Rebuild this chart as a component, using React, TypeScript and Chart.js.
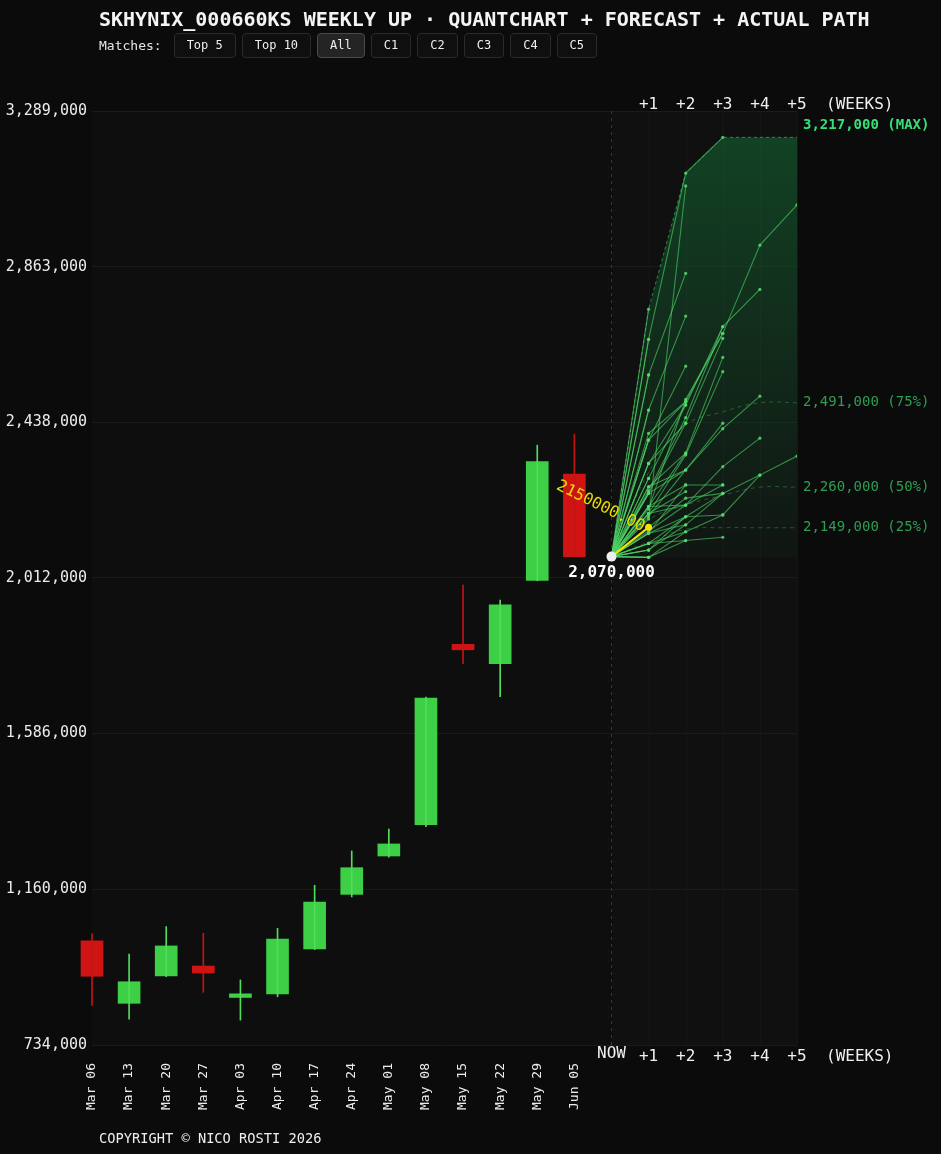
import React, { useEffect, useRef } from 'react';
import { Chart, registerables } from 'chart.js';

Chart.register(...registerables);

const FONT = '"DejaVu Sans Mono", "Liberation Mono", monospace';

const TITLE = 'SKHYNIX_000660KS WEEKLY UP · QUANTCHART + FORECAST + ACTUAL PATH';
const MATCH_BUTTONS = ['Top 5', 'Top 10', 'All', 'C1', 'C2', 'C3', 'C4', 'C5'];
const ACTIVE_BUTTON = 'All';
const COPYRIGHT = 'COPYRIGHT © NICO ROSTI 2026';

const DATES = ['Mar 06', 'Mar 13', 'Mar 20', 'Mar 27', 'Apr 03', 'Apr 10', 'Apr 17', 'Apr 24', 'May 01', 'May 08', 'May 15', 'May 22', 'May 29', 'Jun 05'];
const OPEN = [1019000, 848000, 923000, 950000, 864000, 874000, 997000, 1146000, 1251000, 1337000, 1830000, 1777000, 2005000, 2296000];
const HIGH = [1038000, 983000, 1058000, 1040000, 912000, 1053000, 1171000, 1265000, 1325000, 1686000, 1992000, 1951000, 2375000, 2405000];
const LOW = [842000, 805000, 921000, 878000, 802000, 866000, 995000, 1139000, 1248000, 1331000, 1777000, 1687000, 2004000, 2070000];
const CLOSE = [922000, 907000, 1005000, 931000, 874000, 1024000, 1125000, 1219000, 1284000, 1683000, 1815000, 1938000, 2330000, 2070000];

const Y_TICKS = [734000, 1160000, 1586000, 2012000, 2438000, 2863000, 3289000];
const STEP_LABELS = ['NOW', '+1', '+2', '+3', '+4', '+5'];
const WEEKS_LABEL = '(WEEKS)';

const NOW_PRICE = 2070000;
const ACTUAL_PATH = [2070000, 2150000];
const ACTUAL_LABEL = '2150000.00';

const ENV_MAX = [2070000, 2747000, 3119000, 3217000, 3217000, 3217000];
const ENV_MIN = [2070000, 2068000, 2068000, 2068000, 2068000, 2068000];
const P75 = [2070000, 2300000, 2430000, 2466000, 2491000, 2491000];
const P50 = [2070000, 2170000, 2211000, 2238000, 2260000, 2260000];
const P25 = [2070000, 2110000, 2145000, 2149000, 2149000, 2149000];
const PCT_NAMES = ['75%', '50%', '25%'];

const FORECAST_PATHS: number[][] = [
  [2070000, 2664000, 3119000, 3217000],
  [2070000, 2173000, 3084000],
  [2070000, 2747000],
  [2070000, 2567000, 2845000],
  [2070000, 2471000, 2728000],
  [2070000, 2389000, 2591000],
  [2070000, 2200000, 2500000, 2680000, 2922000, 3032000],
  [2070000, 2250000, 2450000, 2699000, 2801000],
  [2070000, 2243000, 2435000, 2667000],
  [2070000, 2207000, 2353000, 2615000],
  [2070000, 2188000, 2348000, 2576000],
  [2070000, 2180000, 2307000, 2420000, 2509000],
  [2070000, 2140000, 2211000, 2316000, 2394000],
  [2070000, 2106000, 2138000, 2184000, 2293000, 2345000],
  [2070000, 2150000, 2230000, 2243000, 2293000],
  [2070000, 2134000, 2266000, 2266000],
  [2070000, 2068000, 2114000, 2123000],
  [2070000, 2106000, 2179000, 2243000],
  [2070000, 2325000, 2435000],
  [2070000, 2407000, 2494000],
  [2070000, 2207000, 2211000],
  [2070000, 2134000, 2157000],
  [2070000, 2188000, 2248000],
  [2070000, 2068000, 2138000],
  [2070000, 2284000, 2485000],
  [2070000, 2261000, 2353000],
  [2070000, 2088000, 2179000],
  [2070000, 2471000],
  [2070000, 2389000],
  [2070000, 2284000],
  [2070000, 2068000],
  [2070000, 2243000],
  [2070000, 2088000],
  [2070000, 2325000],
  [2070000, 2567000],
  [2070000, 2664000],
  [2070000, 2261000, 2307000, 2435000],
  [2070000, 2325000, 2485000, 2699000],
  [2070000, 2389000, 2494000, 2681000],
  [2070000, 2207000, 2266000],
  [2070000, 2243000, 2307000],
  [2070000, 2188000, 2211000, 2266000],
  [2070000, 2134000, 2179000, 2184000],
  [2070000, 2106000, 2114000],
  [2070000, 2088000, 2157000, 2243000],
];

const UP = '#3dcf46';
const DOWN = '#d01313';
const NOW_X = DATES.length;
const fmt = (v: number) => v.toLocaleString('en-US');
const xy = (arr: number[]) => arr.map((v, i) => ({ x: NOW_X + i, y: v }));

const bgPlugin = {
  id: 'bgPlugin',
  beforeDraw(chart: any) {
    const { ctx, chartArea: a, scales } = chart;
    const x = scales.x;
    ctx.save();
    ctx.fillStyle = '#0b0b0b';
    ctx.fillRect(0, 0, chart.width, chart.height);
    ctx.fillStyle = '#0e0e0e';
    ctx.fillRect(a.left, a.top, a.right - a.left, a.bottom - a.top);
    const bx = x.getPixelForValue(NOW_X);
    ctx.fillStyle = '#101010';
    ctx.fillRect(bx, a.top, a.right - bx, a.bottom - a.top);
    ctx.strokeStyle = '#161616';
    ctx.lineWidth = 1;
    for (let i = 1; i < STEP_LABELS.length; i++) {
      const px = Math.round(x.getPixelForValue(NOW_X + i)) + 0.5;
      ctx.beginPath();
      ctx.moveTo(px, a.top);
      ctx.lineTo(px, a.bottom);
      ctx.stroke();
    }
    ctx.restore();
  },
  beforeDatasetsDraw(chart: any) {
    const { ctx, chartArea: a, scales } = chart;
    const px = Math.round(scales.x.getPixelForValue(NOW_X)) + 0.5;
    ctx.save();
    ctx.strokeStyle = '#363636';
    ctx.setLineDash([3, 4]);
    ctx.lineWidth = 1;
    ctx.beginPath();
    ctx.moveTo(px, a.top);
    ctx.lineTo(px, a.bottom);
    ctx.stroke();
    ctx.restore();
  },
};

const textPlugin = {
  id: 'textPlugin',
  afterDraw(chart: any) {
    const { ctx, chartArea: a, scales } = chart;
    const x = scales.x;
    const y = scales.y;
    ctx.save();
    ctx.textBaseline = 'middle';
    ctx.fillStyle = '#f0f0f0';
    ctx.font = `16px ${FONT}`;
    ctx.textAlign = 'center';
    STEP_LABELS.forEach((s, i) => {
      const px = x.getPixelForValue(NOW_X + i);
      if (i > 0) ctx.fillText(s, px, a.top - 6);
      ctx.fillText(s, px, i === 0 ? a.bottom + 9 : a.bottom + 12);
    });
    ctx.textAlign = 'left';
    const wx = x.getPixelForValue(NOW_X + STEP_LABELS.length - 1) + 29;
    ctx.fillText(WEEKS_LABEL, wx, a.top - 6);
    ctx.fillText(WEEKS_LABEL, wx, a.bottom + 12);

    // right side labels
    const rx = a.right + 6;
    const maxV = ENV_MAX[ENV_MAX.length - 1];
    ctx.font = `bold 14px ${FONT}`;
    ctx.fillStyle = '#35e07a';
    ctx.fillText(`${fmt(maxV)} (MAX)`, rx, y.getPixelForValue(maxV) - 12);
    ctx.font = `14px ${FONT}`;
    ctx.fillStyle = '#2e9e52';
    [P75, P50, P25].forEach((p, i) => {
      const v = p[p.length - 1];
      ctx.fillText(`${fmt(v)} (${PCT_NAMES[i]})`, rx, y.getPixelForValue(v));
    });

    // now label
    const nx = x.getPixelForValue(NOW_X);
    const ny = y.getPixelForValue(NOW_PRICE);
    ctx.font = `bold 16px ${FONT}`;
    ctx.fillStyle = '#ffffff';
    ctx.textAlign = 'center';
    ctx.fillText(fmt(NOW_PRICE), nx, ny + 16);

    // actual path label
    const ex = x.getPixelForValue(NOW_X + ACTUAL_PATH.length - 1);
    const ey = y.getPixelForValue(ACTUAL_PATH[ACTUAL_PATH.length - 1]);
    ctx.translate(ex - 48, ey - 21);
    ctx.rotate(0.46);
    ctx.font = `16px ${FONT}`;
    ctx.fillStyle = '#e9dc00';
    ctx.fillText(ACTUAL_LABEL, 0, 0);
    ctx.restore();
  },
};

export default function App() {
  const ref = useRef<HTMLCanvasElement | null>(null);

  useEffect(() => {
    document.body.style.background = '#0b0b0b';
    const canvas = ref.current;
    if (!canvas) return;

    const pctStyle = (data: number[]) => ({
      type: 'line' as const,
      data: xy(data),
      borderColor: 'rgba(60,165,95,0.45)',
      borderDash: [4, 4],
      borderWidth: 1,
      pointRadius: 0,
      tension: 0.4,
      fill: false,
      order: 15,
    });

    const datasets: any[] = [
      {
        type: 'line',
        data: xy(ENV_MAX),
        borderColor: 'rgba(80,200,120,0.55)',
        borderDash: [3, 3],
        borderWidth: 1,
        pointRadius: 0,
        fill: '+1',
        backgroundColor: (c: any) => {
          const chart = c.chart;
          if (!chart.chartArea || !chart.scales.y) return 'rgba(20,110,55,0.3)';
          const ys = chart.scales.y;
          const g = chart.ctx.createLinearGradient(0, ys.getPixelForValue(ENV_MAX[3]), 0, ys.getPixelForValue(NOW_PRICE));
          g.addColorStop(0, 'rgba(20,115,55,0.5)');
          g.addColorStop(1, 'rgba(20,110,55,0.06)');
          return g;
        },
        order: 20,
      },
      {
        type: 'line',
        data: xy(ENV_MIN),
        borderWidth: 0,
        borderColor: 'rgba(0,0,0,0)',
        pointRadius: 0,
        fill: false,
        order: 21,
      },
      pctStyle(P75),
      pctStyle(P50),
      pctStyle(P25),
      ...FORECAST_PATHS.map((p) => ({
        type: 'line',
        data: xy(p),
        borderColor: 'rgba(78,212,102,0.62)',
        borderWidth: 1.1,
        pointRadius: 1.6,
        pointBackgroundColor: 'rgba(85,220,110,0.85)',
        pointBorderWidth: 0,
        fill: false,
        order: 10,
      })),
      {
        type: 'bar',
        data: DATES.map((_, i) => ({ x: i, y: [OPEN[i], CLOSE[i]] })),
        backgroundColor: DATES.map((_, i) => (CLOSE[i] >= OPEN[i] ? UP : DOWN)),
        barThickness: 22,
        grouped: false,
        borderWidth: 0,
        clip: false,
        order: 7,
      },
      {
        type: 'bar',
        data: DATES.map((_, i) => ({ x: i, y: [LOW[i], HIGH[i]] })),
        backgroundColor: DATES.map((_, i) => (CLOSE[i] >= OPEN[i] ? '#52dc5a' : '#c41414')),
        barThickness: 1,
        grouped: false,
        borderWidth: 0,
        clip: false,
        order: 6,
      },
      {
        type: 'line',
        data: xy(ACTUAL_PATH),
        borderColor: '#f2e400',
        borderWidth: 2,
        pointRadius: ACTUAL_PATH.map((_, i) => (i === 0 ? 0 : 3.5)),
        pointBackgroundColor: '#f2e400',
        pointBorderWidth: 0,
        fill: false,
        order: 2,
      },
      {
        type: 'line',
        data: [{ x: NOW_X, y: NOW_PRICE }],
        showLine: false,
        pointRadius: 5,
        pointBackgroundColor: '#eeeeee',
        pointBorderWidth: 0,
        order: 1,
      },
    ];

    const chart = new Chart(canvas, {
      type: 'bar',
      data: { datasets },
      options: {
        animation: false,
        responsive: false,
        devicePixelRatio: 1,
        layout: { padding: { top: 111, right: 144, bottom: 0, left: 0 } },
        plugins: { legend: { display: false }, tooltip: { enabled: false } },
        scales: {
          x: {
            type: 'linear',
            min: 0,
            max: NOW_X + STEP_LABELS.length - 1,
            offset: false,
            grid: { display: false, drawTicks: false, offset: false },
            border: { display: false },
            ticks: {
              stepSize: 1,
              autoSkip: false,
              minRotation: 90,
              maxRotation: 90,
              padding: 18,
              color: '#ececec',
              font: { family: FONT, size: 13 },
              callback: (v: any) => (Number.isInteger(v) && v < DATES.length ? DATES[v] : ''),
            },
            afterFit: (s: any) => {
              s.height = 109;
            },
          },
          y: {
            type: 'linear',
            min: Y_TICKS[0],
            max: Y_TICKS[Y_TICKS.length - 1],
            grid: { color: '#1b1b1b', drawTicks: false },
            border: { display: false },
            afterBuildTicks: (s: any) => {
              s.ticks = Y_TICKS.map((v) => ({ value: v }));
            },
            ticks: {
              padding: 5,
              color: '#ececec',
              font: { family: FONT, size: 15 },
              callback: (v: any) => fmt(Number(v)),
            },
            afterFit: (s: any) => {
              s.width = 92;
            },
          },
        },
      },
      plugins: [bgPlugin, textPlugin],
    });
    return () => chart.destroy();
  }, []);

  return (
    <div style={{ position: 'absolute', left: 0, top: 0, width: 941, height: 1154, background: '#0b0b0b', overflow: 'hidden', fontFamily: FONT }}>
      <canvas ref={ref} width={941} height={1154} style={{ position: 'absolute', left: 0, top: 0, width: 941, height: 1154 }} />
      <div style={{ position: 'absolute', left: 99, top: 7, color: '#f4f4f4', fontWeight: 700, fontSize: 20, lineHeight: '24px', whiteSpace: 'nowrap' }}>{TITLE}</div>
      <div style={{ position: 'absolute', left: 99, top: 33, display: 'flex', alignItems: 'center', gap: 6 }}>
        <span style={{ color: '#e6e6e6', fontSize: 13, marginRight: 6 }}>Matches:</span>
        {MATCH_BUTTONS.map((b) => (
          <div
            key={b}
            style={{
              height: 23,
              lineHeight: '23px',
              padding: '0 12px',
              border: `1px solid ${b === ACTIVE_BUTTON ? '#4a4a4a' : '#2a2a2a'}`,
              borderRadius: 4,
              background: b === ACTIVE_BUTTON ? '#242424' : '#0f0f0f',
              color: '#eeeeee',
              fontSize: 12,
              whiteSpace: 'nowrap',
            }}
          >
            {b}
          </div>
        ))}
      </div>
      <div style={{ position: 'absolute', left: 99, top: 1129, color: '#eeeeee', fontSize: 13.7, lineHeight: '18px', whiteSpace: 'nowrap' }}>{COPYRIGHT}</div>
    </div>
  );
}
